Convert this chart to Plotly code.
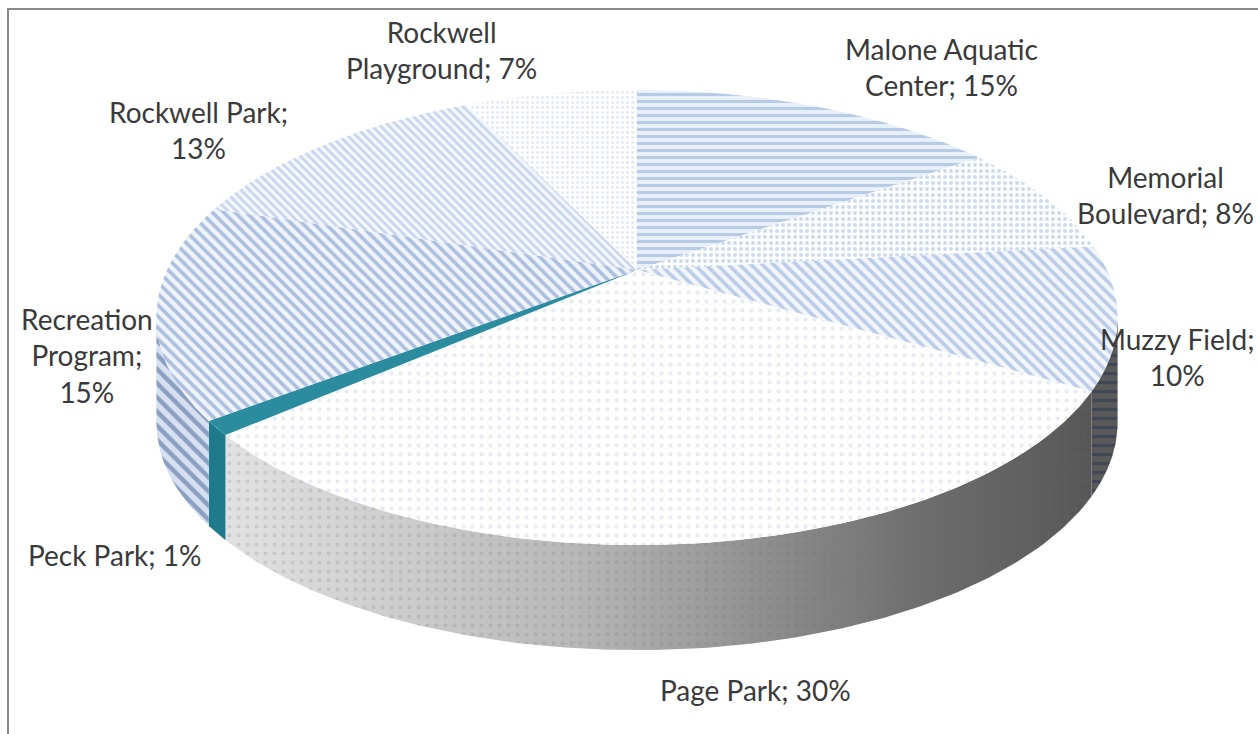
import numpy as np
import plotly.graph_objects as go

# ---------------- data ----------------
names = ["Malone Aquatic Center", "Memorial Boulevard", "Muzzy Field", "Page Park",
         "Peck Park", "Recreation Program", "Rockwell Park", "Rockwell Playground"]
values = [15, 8, 10, 30, 1, 15, 13, 7]
display_names = ["Malone Aquatic<br>Center", "Memorial<br>Boulevard", "Muzzy Field", "Page Park",
                 "Peck Park", "Recreation<br>Program", "Rockwell Park", "Rockwell<br>Playground"]
value_breaks = [False, False, True, False, False, True, True, False]

# ---------------- layout / style ----------------
W, H = 1258, 734
CX, CY = 637, 270          # apex of the pie on screen
A, B, P = 470, 217.6, 0.209  # ellipse half-axes and perspective strength
DEPTH = 105                # thickness of the pie wall

top_styles = [
    dict(shape="-", fg="#84a3d4", bg="#eaf0f9", size=7, sol=0.45),
    dict(shape=".", fg="#9ab3de", bg="#ffffff", size=6, sol=0.35),
    dict(shape="\\", fg="#82a1d3", bg="#f2f6fb", size=8, sol=0.45),
    dict(shape=".", fg="#d0d8e8", bg="#ffffff", size=9, sol=0.18),
    dict(shape="", fg="#2b8c9f", bg="#2b8c9f", size=8, sol=0.5),
    dict(shape="\\", fg="#6c8cc2", bg="#eff3fa", size=8, sol=0.45),
    dict(shape="\\", fg="#9ab2dc", bg="#f4f7fc", size=6, sol=0.45),
    dict(shape=".", fg="#c2d0ea", bg="#ffffff", size=5, sol=0.25),
]
wall_styles = {
    "Muzzy Field": dict(shape="-", fg="#26344f", bg="#5a5a5a", size=9, sol=0.35),
    "Page Park": None,
    "Peck Park": dict(shape="", fg="#1f7a8c", bg="#1f7a8c", size=8, sol=0.5),
    "Recreation Program": dict(shape="\\", fg="#3e5e92", bg="#d6e0f0", size=10, sol=0.45),
}
# label anchor positions (x, y, xanchor)
label_pos = [(941, 67, "center"), (1256, 195, "right"), (1256, 357, "right"), (755, 690, "center"),
             (115, 555, "center"), (87, 355, "center"), (198, 130, "center"), (441, 50, "center")]
FONT = dict(family="Lato, Carlito, 'Liberation Sans', sans-serif", size=28, color="#3a3a3a")


def pt(theta_deg, r=1.0, drop=0.0):
    th = np.radians(theta_deg)
    d = r * np.cos(th)
    f = 1.0 / (1.0 + P * d)
    return CX + A * r * np.sin(th) * f, CY - B * d * f + drop


def pattern(st):
    return dict(shape=st["shape"], fgcolor=st["fg"], bgcolor=st["bg"],
                size=st["size"], solidity=st["sol"])


total = float(sum(values))
bounds = np.concatenate([[0.0], np.cumsum(values) / total * 360.0])

fig = go.Figure()

# ---------- walls (front side only) ----------
theta_sil = np.degrees(np.arccos(-P))
vis_lo, vis_hi = theta_sil, 360.0 - theta_sil
for i, name in enumerate(names):
    if name not in wall_styles:
        continue
    w0, w1 = max(bounds[i], vis_lo), min(bounds[i + 1], vis_hi)
    if w1 <= w0:
        continue
    th = np.linspace(w0, w1, 120)
    xt, yt = pt(th)
    xb, yb = pt(th[::-1], drop=DEPTH)
    xs = np.concatenate([xt, xb, xt[:1]])
    ys = np.concatenate([yt, yb, yt[:1]])
    st = wall_styles[name]
    if st is None:
        fig.add_trace(go.Scatter(
            x=xs, y=ys, fill="toself", mode="lines", line=dict(width=0),
            fillgradient=dict(type="horizontal",
                              colorscale=[[0, "#e2e2e2"], [0.4, "#b8b8b8"], [0.8, "#6e6e6e"], [1, "#575757"]]),
            hoverinfo="skip", showlegend=False))
        fig.add_trace(go.Scatter(
            x=xs, y=ys, fill="toself", mode="lines", line=dict(width=0),
            fillcolor="rgba(0,0,0,0)",
            fillpattern=dict(shape=".", fgcolor="rgba(110,110,130,0.35)", bgcolor="rgba(0,0,0,0)",
                             size=9, solidity=0.16),
            hoverinfo="skip", showlegend=False))
    else:
        fig.add_trace(go.Scatter(
            x=xs, y=ys, fill="toself", mode="lines", line=dict(width=0),
            fillcolor=st["bg"], fillpattern=pattern(st),
            hoverinfo="skip", showlegend=False))

# ---------- top surfaces ----------
for i, name in enumerate(names):
    th = np.linspace(bounds[i], bounds[i + 1], max(8, int(values[i] * 8)))
    xa, ya = pt(th)
    xs = np.concatenate([[CX], xa, [CX]])
    ys = np.concatenate([[CY], ya, [CY]])
    st = top_styles[i]
    fig.add_trace(go.Scatter(
        x=xs, y=ys, fill="toself", mode="lines", line=dict(width=0),
        fillcolor=st["bg"], fillpattern=pattern(st),
        name=name, hoverinfo="name", showlegend=False))

# ---------- labels ----------
for i, name in enumerate(names):
    sep = "<br>" if value_breaks[i] else " "
    txt = f"{display_names[i]};{sep}{values[i]}%"
    x, y, xa = label_pos[i]
    fig.add_annotation(x=x, y=y, xref="x", yref="y", text=txt, showarrow=False,
                       xanchor=xa, yanchor="middle", align="center", font=FONT)

# chart border (left/top visible)
fig.add_shape(type="rect", xref="paper", yref="paper",
              x0=8 / W, y0=1 - 9 / H, x1=1.02, y1=-0.02,
              line=dict(color="#8a8a8a", width=2), fillcolor="rgba(0,0,0,0)")

fig.update_layout(
    width=W, height=H, margin=dict(l=0, r=0, t=0, b=0),
    paper_bgcolor="white", plot_bgcolor="white",
    xaxis=dict(range=[0, W], visible=False, fixedrange=True),
    yaxis=dict(range=[H, 0], visible=False, fixedrange=True),
    showlegend=False,
)

fig.write_html("out.html")
